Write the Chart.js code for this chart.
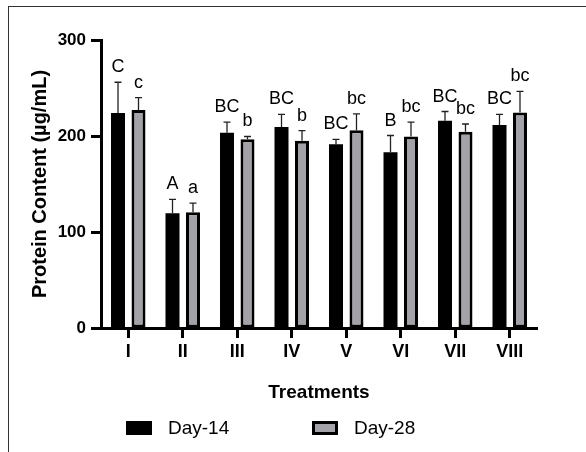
<!DOCTYPE html>
<html>
<head>
<meta charset="utf-8">
<script src="https://cdn.jsdelivr.net/npm/chart.js@4.4.0/dist/chart.umd.min.js"></script>
<style>
  html, body { margin: 0; padding: 0; background: #fff; overflow: hidden; }
  #frame { position: absolute; left: 8px; top: 6px; width: 600px; height: 500px;
           border-left: 1.5px solid #333; border-top: 1.5px solid #333; }
  #grafico { position: absolute; left: 0; top: 0; }
</style>
</head>
<body>
<div id="frame"></div>
<canvas id="grafico" width="586" height="452"></canvas>
<script>
const categorias = ['I', 'II', 'III', 'IV', 'V', 'VI', 'VII', 'VIII'];
const dia14 = [224, 119.5, 203.5, 209.5, 191.5, 183, 216, 211.5];
const dia14Err = [32, 14.5, 11, 13, 5, 17.5, 9.5, 11];
const dia28 = [227, 120.5, 196.5, 195, 206, 199.5, 204.5, 224.5];
const dia28Err = [13, 9.5, 3, 10.5, 17, 15, 8, 22];
const letras14 = ['C', 'A', 'BC', 'BC', 'BC', 'B', 'BC', 'BC'];
const letras28 = ['c', 'a', 'b', 'b', 'bc', 'bc', 'bc', 'bc'];
const ticksY = [0, 100, 200, 300];

const fuente = '"Liberation Sans", Arial, sans-serif';
const gris = '#a2a2a8';

// barras de error + letras de significancia + leyenda
const errores = {
    id: 'errores',
    afterDatasetsDraw(chart) {
        const ctx = chart.ctx;
        const y = chart.scales.y;
        chart.data.datasets.forEach((ds, i) => {
            const meta = chart.getDatasetMeta(i);
            meta.data.forEach((bar, j) => {
                const top = y.getPixelForValue(ds.data[j] + ds.errores[j]);
                ctx.save();
                ctx.strokeStyle = '#222';
                ctx.lineWidth = 1.3;
                ctx.beginPath();
                ctx.moveTo(bar.x, bar.y);
                ctx.lineTo(bar.x, top);
                ctx.moveTo(bar.x - 3.5, top);
                ctx.lineTo(bar.x + 3.5, top);
                ctx.stroke();
                ctx.fillStyle = '#000';
                ctx.font = '18px ' + fuente;
                ctx.textAlign = 'center';
                ctx.textBaseline = 'alphabetic';
                ctx.fillText(ds.letras[j], bar.x, top - 10);
                ctx.restore();
            });
        });
    },
    afterDraw(chart) {
        const ctx = chart.ctx;
        const items = [126, 312];
        chart.data.datasets.forEach((ds, i) => {
            const bx = items[i], by = 421;
            ctx.save();
            ctx.fillStyle = ds.borderColor;
            ctx.fillRect(bx, by, 26, 14);
            if (ds.borderWidth > 0) {
                ctx.fillStyle = ds.backgroundColor;
                ctx.fillRect(bx + 3, by + 3, 20, 8);
            }
            ctx.fillStyle = '#000';
            ctx.font = '19px ' + fuente;
            ctx.textAlign = 'left';
            ctx.textBaseline = 'middle';
            ctx.fillText(ds.label, bx + 42, by + 7.5);
            ctx.restore();
        });
    }
};

new Chart(document.getElementById('grafico').getContext('2d'), {
    type: 'bar',
    data: {
        labels: categorias,
        datasets: [{
            label: 'Day-14',
            data: dia14,
            errores: dia14Err,
            letras: letras14,
            backgroundColor: '#000',
            borderColor: '#000',
            borderWidth: 0,
            categoryPercentage: 0.752,
            barPercentage: 0.683
        }, {
            label: 'Day-28',
            data: dia28,
            errores: dia28Err,
            letras: letras28,
            backgroundColor: gris,
            borderColor: '#000',
            borderWidth: 3,
            borderSkipped: false,
            categoryPercentage: 0.752,
            barPercentage: 0.683
        }]
    },
    options: {
        responsive: false,
        animation: false,
        layout: { padding: { left: 0, right: 49, top: 40, bottom: 0 } },
        plugins: {
            legend: { display: false },
            tooltip: { enabled: false }
        },
        scales: {
            x: {
                afterFit(scale) { scale.height = 124; },
                grid: {
                    offset: false,
                    drawOnChartArea: false,
                    drawTicks: true,
                    tickLength: 10,
                    tickWidth: 3,
                    tickColor: '#000'
                },
                border: { display: true, color: '#000', width: 3 },
                ticks: {
                    color: '#000',
                    padding: 3,
                    font: { family: fuente, size: 18, weight: 'bold' }
                },
                title: {
                    display: true,
                    text: 'Treatments',
                    color: '#000',
                    font: { family: fuente, size: 19, weight: 'bold' },
                    padding: { top: 0, bottom: 48 }
                }
            },
            y: {
                min: 0,
                max: 300,
                afterFit(scale) { scale.width = 101; },
                afterBuildTicks(scale) { scale.ticks = ticksY.map(v => ({ value: v })); },
                grid: {
                    drawOnChartArea: false,
                    drawTicks: true,
                    tickLength: 10,
                    tickWidth: 3,
                    tickColor: '#000'
                },
                border: { display: true, color: '#000', width: 3 },
                ticks: {
                    color: '#000',
                    padding: 5,
                    font: { family: fuente, size: 17, weight: 'bold' }
                },
                title: {
                    display: true,
                    text: 'Protein Content (µg/mL)',
                    color: '#000',
                    font: { family: fuente, size: 20, weight: 'bold' },
                    padding: { top: 28, bottom: 0 }
                }
            }
        }
    },
    plugins: [errores]
});
</script>
</body>
</html>
